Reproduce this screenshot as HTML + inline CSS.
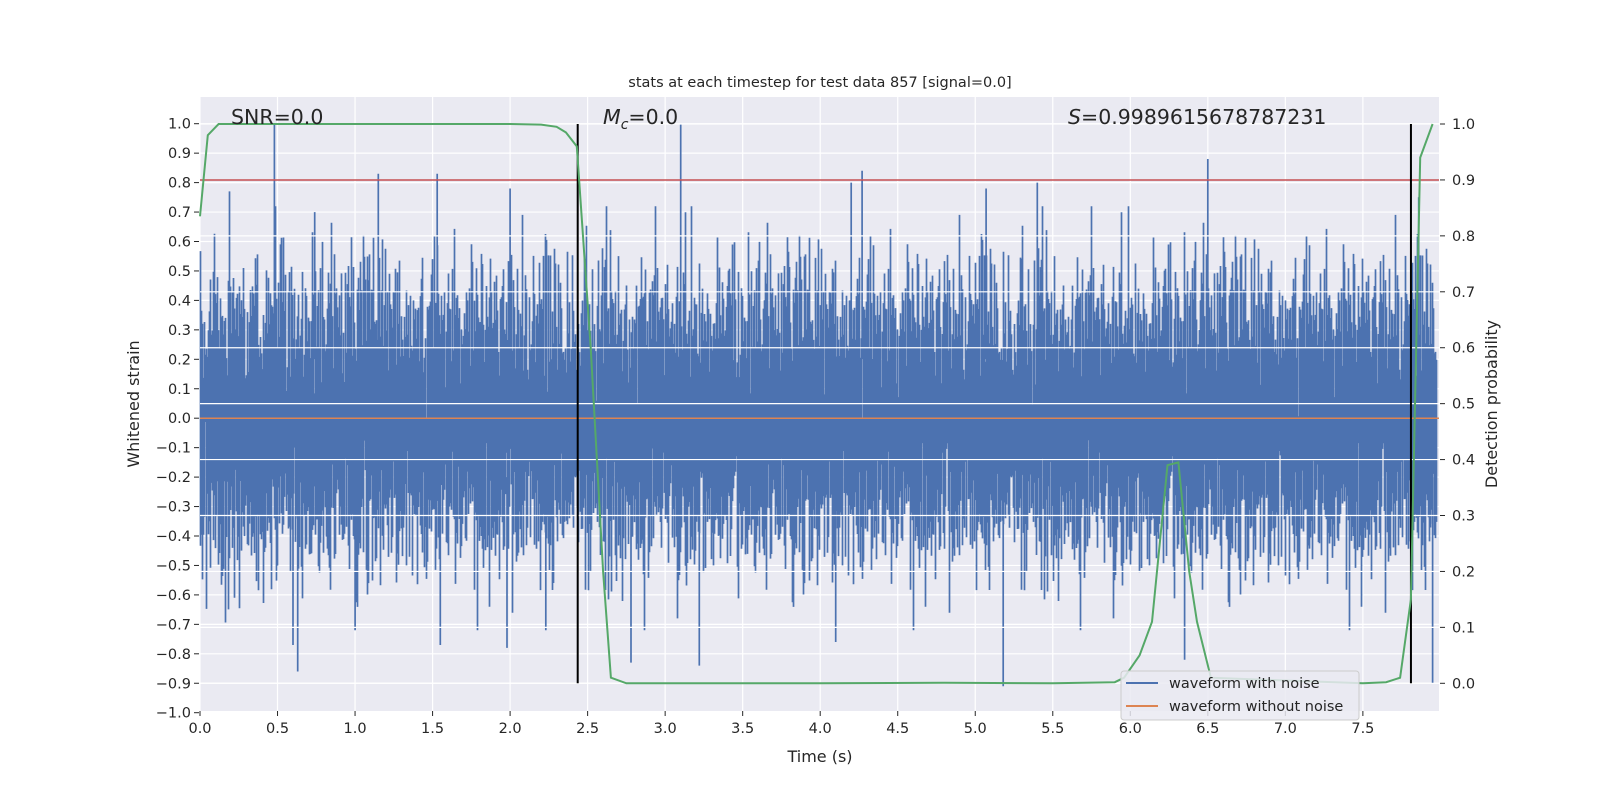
<!DOCTYPE html>
<html><head><meta charset="utf-8">
<style>
body{margin:0;background:#fff;}
svg{display:block;font-family:"DejaVu Sans","Liberation Sans",sans-serif;}
</style></head>
<body>
<svg id="chart" width="1600" height="800" viewBox="0 0 1600 800">
<rect x="200" y="97" width="1239" height="614" fill="#eaeaf2"/>
<g id="gridL"></g>
<g id="noise"></g>
<g id="gridR"></g>
<g id="lines"></g>
<g id="ticks" fill="#262626" font-size="14.5"></g>
<text x="820" y="87" text-anchor="middle" font-size="14.5" fill="#262626">stats at each timestep for test data 857 [signal=0.0]</text>
<text x="231" y="124" font-size="20.5" fill="#262626">SNR=0.0</text>
<text x="603" y="124" font-size="20.5" fill="#262626"><tspan font-style="italic">M</tspan><tspan font-size="14" font-style="italic" dy="5">c</tspan><tspan dy="-5">=0.0</tspan></text>
<text x="1068" y="124" font-size="20.5" fill="#262626"><tspan font-style="italic">S</tspan>=0.9989615678787231</text>
<text x="820" y="762" text-anchor="middle" font-size="16" fill="#262626">Time (s)</text>
<text transform="translate(139,404) rotate(-90)" text-anchor="middle" font-size="16" fill="#262626">Whitened strain</text>
<text transform="translate(1497,404) rotate(-90)" text-anchor="middle" font-size="16" fill="#262626">Detection probability</text>
<g>
<rect x="1121" y="671" width="238" height="49" rx="3" fill="#eaeaf2" fill-opacity="0.85" stroke="#cccccc"/>
<line x1="1126" y1="683" x2="1158" y2="683" stroke="#4c72b0" stroke-width="2"/>
<text x="1169" y="688" font-size="14.5" fill="#262626">waveform with noise</text>
<line x1="1126" y1="706" x2="1158" y2="706" stroke="#dd8452" stroke-width="2"/>
<text x="1169" y="711" font-size="14.5" fill="#262626">waveform without noise</text>
</g>
</svg>
<script>
const probTimes=[0,0.05,0.12,0.5,1.0,1.5,2.0,2.2,2.3,2.36,2.43,2.52,2.6,2.65,2.75,3.0,4.0,4.8,5.5,5.9,5.96,6.06,6.14,6.24,6.31,6.38,6.43,6.52,7.0,7.5,7.65,7.74,7.81,7.87,7.95];
const probVals=[0.835,0.98,1.0,1.0,1.0,1.0,1.0,0.999,0.995,0.985,0.96,0.6,0.2,0.01,0.0,0.0,0.0,0.001,0.0,0.002,0.01,0.05,0.11,0.39,0.395,0.2,0.11,0.01,0.005,0.0,0.002,0.01,0.15,0.94,1.0];
const spikeTimes=[0.19,0.48,0.6,0.63,0.74,1.0,1.15,1.53,1.55,1.98,2.0,2.23,2.78,3.1,3.22,4.1,4.2,4.27,5.07,5.18,5.4,6.35,6.5,7.86,7.95];
const spikeVals=[0.77,1.0,-0.77,-0.86,0.7,-0.72,0.83,0.83,-0.77,-0.78,0.78,-0.72,-0.83,1.0,-0.84,-0.76,0.8,0.84,0.78,-0.91,0.8,-0.82,0.88,0.75,-0.9];
const leftTicks=[-1.0,-0.9,-0.8,-0.7,-0.6,-0.5,-0.4,-0.3,-0.2,-0.1,0.0,0.1,0.2,0.3,0.4,0.5,0.6,0.7,0.8,0.9,1.0];
const rightTicks=[0.0,0.1,0.2,0.3,0.4,0.5,0.6,0.7,0.8,0.9,1.0];
const xTicks=[0.0,0.5,1.0,1.5,2.0,2.5,3.0,3.5,4.0,4.5,5.0,5.5,6.0,6.5,7.0,7.5];
const thresholdVal=[0.809];
const markerTimes=[2.436,7.81];
const X0=200,X1=1439,Y0=97,Y1=711;
const xs=t=>X0+t*155.05;
const yl=v=>123.7+(1-v)*294.5;
const yr=p=>683.3-p*559.3;
const NS='http://www.w3.org/2000/svg';
function mk(tag,attrs,parent){const e=document.createElementNS(NS,tag);for(const k in attrs)e.setAttribute(k,attrs[k]);parent.appendChild(e);return e;}
const gL=document.getElementById('gridL'),gR=document.getElementById('gridR'),gN=document.getElementById('noise'),gLn=document.getElementById('lines'),gT=document.getElementById('ticks');
xTicks.forEach(t=>{const l=mk('line',{x1:xs(t),x2:xs(t),y1:Y0,y2:Y1,stroke:'#fff','stroke-width':1.2},gL);


const tk=mk('line',{x1:xs(t),x2:xs(t),y1:Y1,y2:Y1+5,stroke:'#262626'},gT);


const tx=mk('text',{x:xs(t),y:Y1+22,'text-anchor':'middle'},gT);tx.textContent=t.toFixed(1);

});
leftTicks.forEach(v=>{const l=mk('line',{x1:X0,x2:X1,y1:yl(v),y2:yl(v),stroke:'#fff','stroke-width':1.2},gL);


const tk=mk('line',{x1:X0-6,x2:X0-1,y1:yl(v),y2:yl(v),stroke:'#262626'},gT);


const tx=mk('text',{x:X0-9,y:yl(v)+5,'text-anchor':'end'},gT);tx.textContent=(v<0?'\u2212':'')+Math.abs(v).toFixed(1);

});
rightTicks.forEach(p=>{const l=mk('line',{x1:X0,x2:X1,y1:yr(p),y2:yr(p),stroke:'#fff','stroke-width':1.2},gR);


const tk=mk('line',{x1:X1+1,x2:X1+6,y1:yr(p),y2:yr(p),stroke:'#262626'},gT);


const tx=mk('text',{x:X1+13,y:yr(p)+5},gT);tx.textContent=p.toFixed(1);

});
// noise texture (seeded, deterministic)
let s=857;const rnd=()=>{s=(s*1103515245+12345)%2147483648;return s/2147483648;};
const gauss=()=>{let u=rnd()||1e-9,v=rnd();return Math.sqrt(-2*Math.log(u))*Math.cos(2*Math.PI*v);};
let d='';
for(let px=X0;px<X1-2;px++){let mn=0,mx=0;for(let k=0;k<12;k++){const g=gauss()*0.22;if(g<mn)mn=g;if(g>mx)mx=g;}
mn=Math.max(mn,-0.72);mx=Math.min(mx,0.72);
d+='M'+(px+0.5)+' '+yl(mx).toFixed(1)+'V'+yl(mn).toFixed(1);}
spikeTimes.forEach((t,i)=>{const v=spikeVals[i];d+='M'+xs(t).toFixed(1)+' '+yl(Math.max(v,-0.2)).toFixed(1)+'V'+yl(Math.min(v,0.2)).toFixed(1);});
const np=mk('path',{d:d,stroke:'#4c72b0','stroke-width':1.7,fill:'none'},gN);


const ol=mk('line',{x1:X0,x2:X1,y1:yl(0),y2:yl(0),stroke:'#dd8452','stroke-width':1.5},gLn);


const rl=mk('line',{x1:X0,x2:X1,y1:yl(thresholdVal[0]),y2:yl(thresholdVal[0]),stroke:'#c44e52','stroke-width':1.5},gLn);


markerTimes.forEach(t=>{const m=mk('line',{x1:xs(t),x2:xs(t),y1:yr(1),y2:yr(0),stroke:'#000','stroke-width':2},gLn);

});
const gp=mk('polyline',{points:probTimes.map((t,i)=>xs(t).toFixed(1)+','+yr(probVals[i]).toFixed(1)).join(' '),fill:'none',stroke:'#55a868','stroke-width':2},gLn);


</script>
</body></html>
